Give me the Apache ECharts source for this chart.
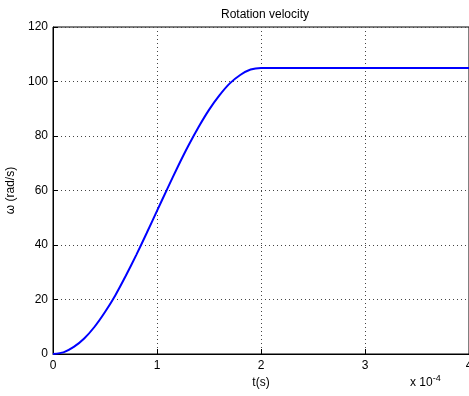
<!DOCTYPE html>
<html>
<head>
<meta charset="utf-8">
<script src="https://cdn.jsdelivr.net/npm/echarts@6/dist/echarts.min.js"></script>
<style>
  html, body { margin: 0; padding: 0; background: #fff; }
  #chart { width: 469px; height: 396px; }
</style>
</head>
<body>
<div id="chart"></div>
<script>
// time in units of 1e-4 s
var tScaled = [0, 0.1, 0.2, 0.3, 0.4, 0.5, 0.6, 0.7, 0.8, 0.9, 1.0, 1.1, 1.2, 1.3, 1.4, 1.5, 1.6, 1.7, 1.8, 1.9, 2.0, 3.0, 4.0]
// rotation velocity (rad/s)
var omega = [0, 0.6, 2.6, 5.7, 10, 15.4, 21.6, 28.7, 36.3, 44.3, 52.5, 60.7, 68.7, 76.3, 83.3, 89.6, 94.9, 99.3, 102.4, 104.4, 105, 105, 105]

var xTicks = [0, 1, 2, 3, 4]
var yTicks = [0, 20, 40, 60, 80, 100, 120]

function initRotation() {
  let chart = echarts.init(document.getElementById('chart'))

  var points = tScaled.map(function (t, i) {
    return [t, omega[i]]
  })

  var font = 'Liberation Sans, Arial, sans-serif'

  var option = {
    backgroundColor: '#fff',
    animation: false,
    title: {
      text: 'Rotation velocity',
      left: 216,
      top: 4,
      textStyle: {
        fontFamily: font,
        fontSize: 12,
        fontWeight: 'normal',
        color: '#000',
      },
    },
    grid: {
      left: 53,
      right: 0,
      top: 27,
      bottom: 42,
      outerBoundsMode: 'none',
      show: true,
      borderColor: '#000',
      borderWidth: 1,
    },
    xAxis: {
      type: 'value',
      min: xTicks[0],
      max: xTicks[xTicks.length - 1],
      interval: 1,
      name: 't(s)',
      nameLocation: 'middle',
      nameGap: 23,
      nameTextStyle: { fontFamily: font, fontSize: 12, color: '#000' },
      axisLine: { lineStyle: { color: '#000', width: 1 } },
      axisTick: { inside: true, length: 5, lineStyle: { color: '#000' } },
      axisLabel: { fontFamily: font, fontSize: 12, color: '#000', margin: 6 },
      splitLine: { lineStyle: { color: '#444', type: [1, 3], width: 1 } },
    },
    yAxis: {
      type: 'value',
      min: yTicks[0],
      max: yTicks[yTicks.length - 1],
      interval: 20,
      name: 'ω (rad/s)',
      nameLocation: 'middle',
      nameGap: 31,
      nameTextStyle: { fontFamily: font, fontSize: 12, color: '#000' },
      axisLine: { show: true, lineStyle: { color: '#000', width: 1 } },
      axisTick: { show: true, inside: true, length: 5, lineStyle: { color: '#000' } },
      axisLabel: { fontFamily: font, fontSize: 12, color: '#000', margin: 5 },
      splitLine: { lineStyle: { color: '#444', type: [1, 3], width: 1 } },
    },
    graphic: [
      {
        type: 'text',
        left: 410,
        top: 374,
        style: {
          text: '{a|x 10}{b|-4}',
          rich: {
            a: { fontFamily: font, fontSize: 12, fill: '#000', padding: [8, 0, 0, 0] },
            b: { fontFamily: font, fontSize: 9, fill: '#000' },
          },
        },
      },
    ],
    series: [
      {
        type: 'line',
        data: points,
        showSymbol: false,
        smooth: 0.2,
        lineStyle: { color: '#0000ff', width: 2 },
      },
    ],
  }
  chart.setOption(option)
}

initRotation()
</script>
</body>
</html>
